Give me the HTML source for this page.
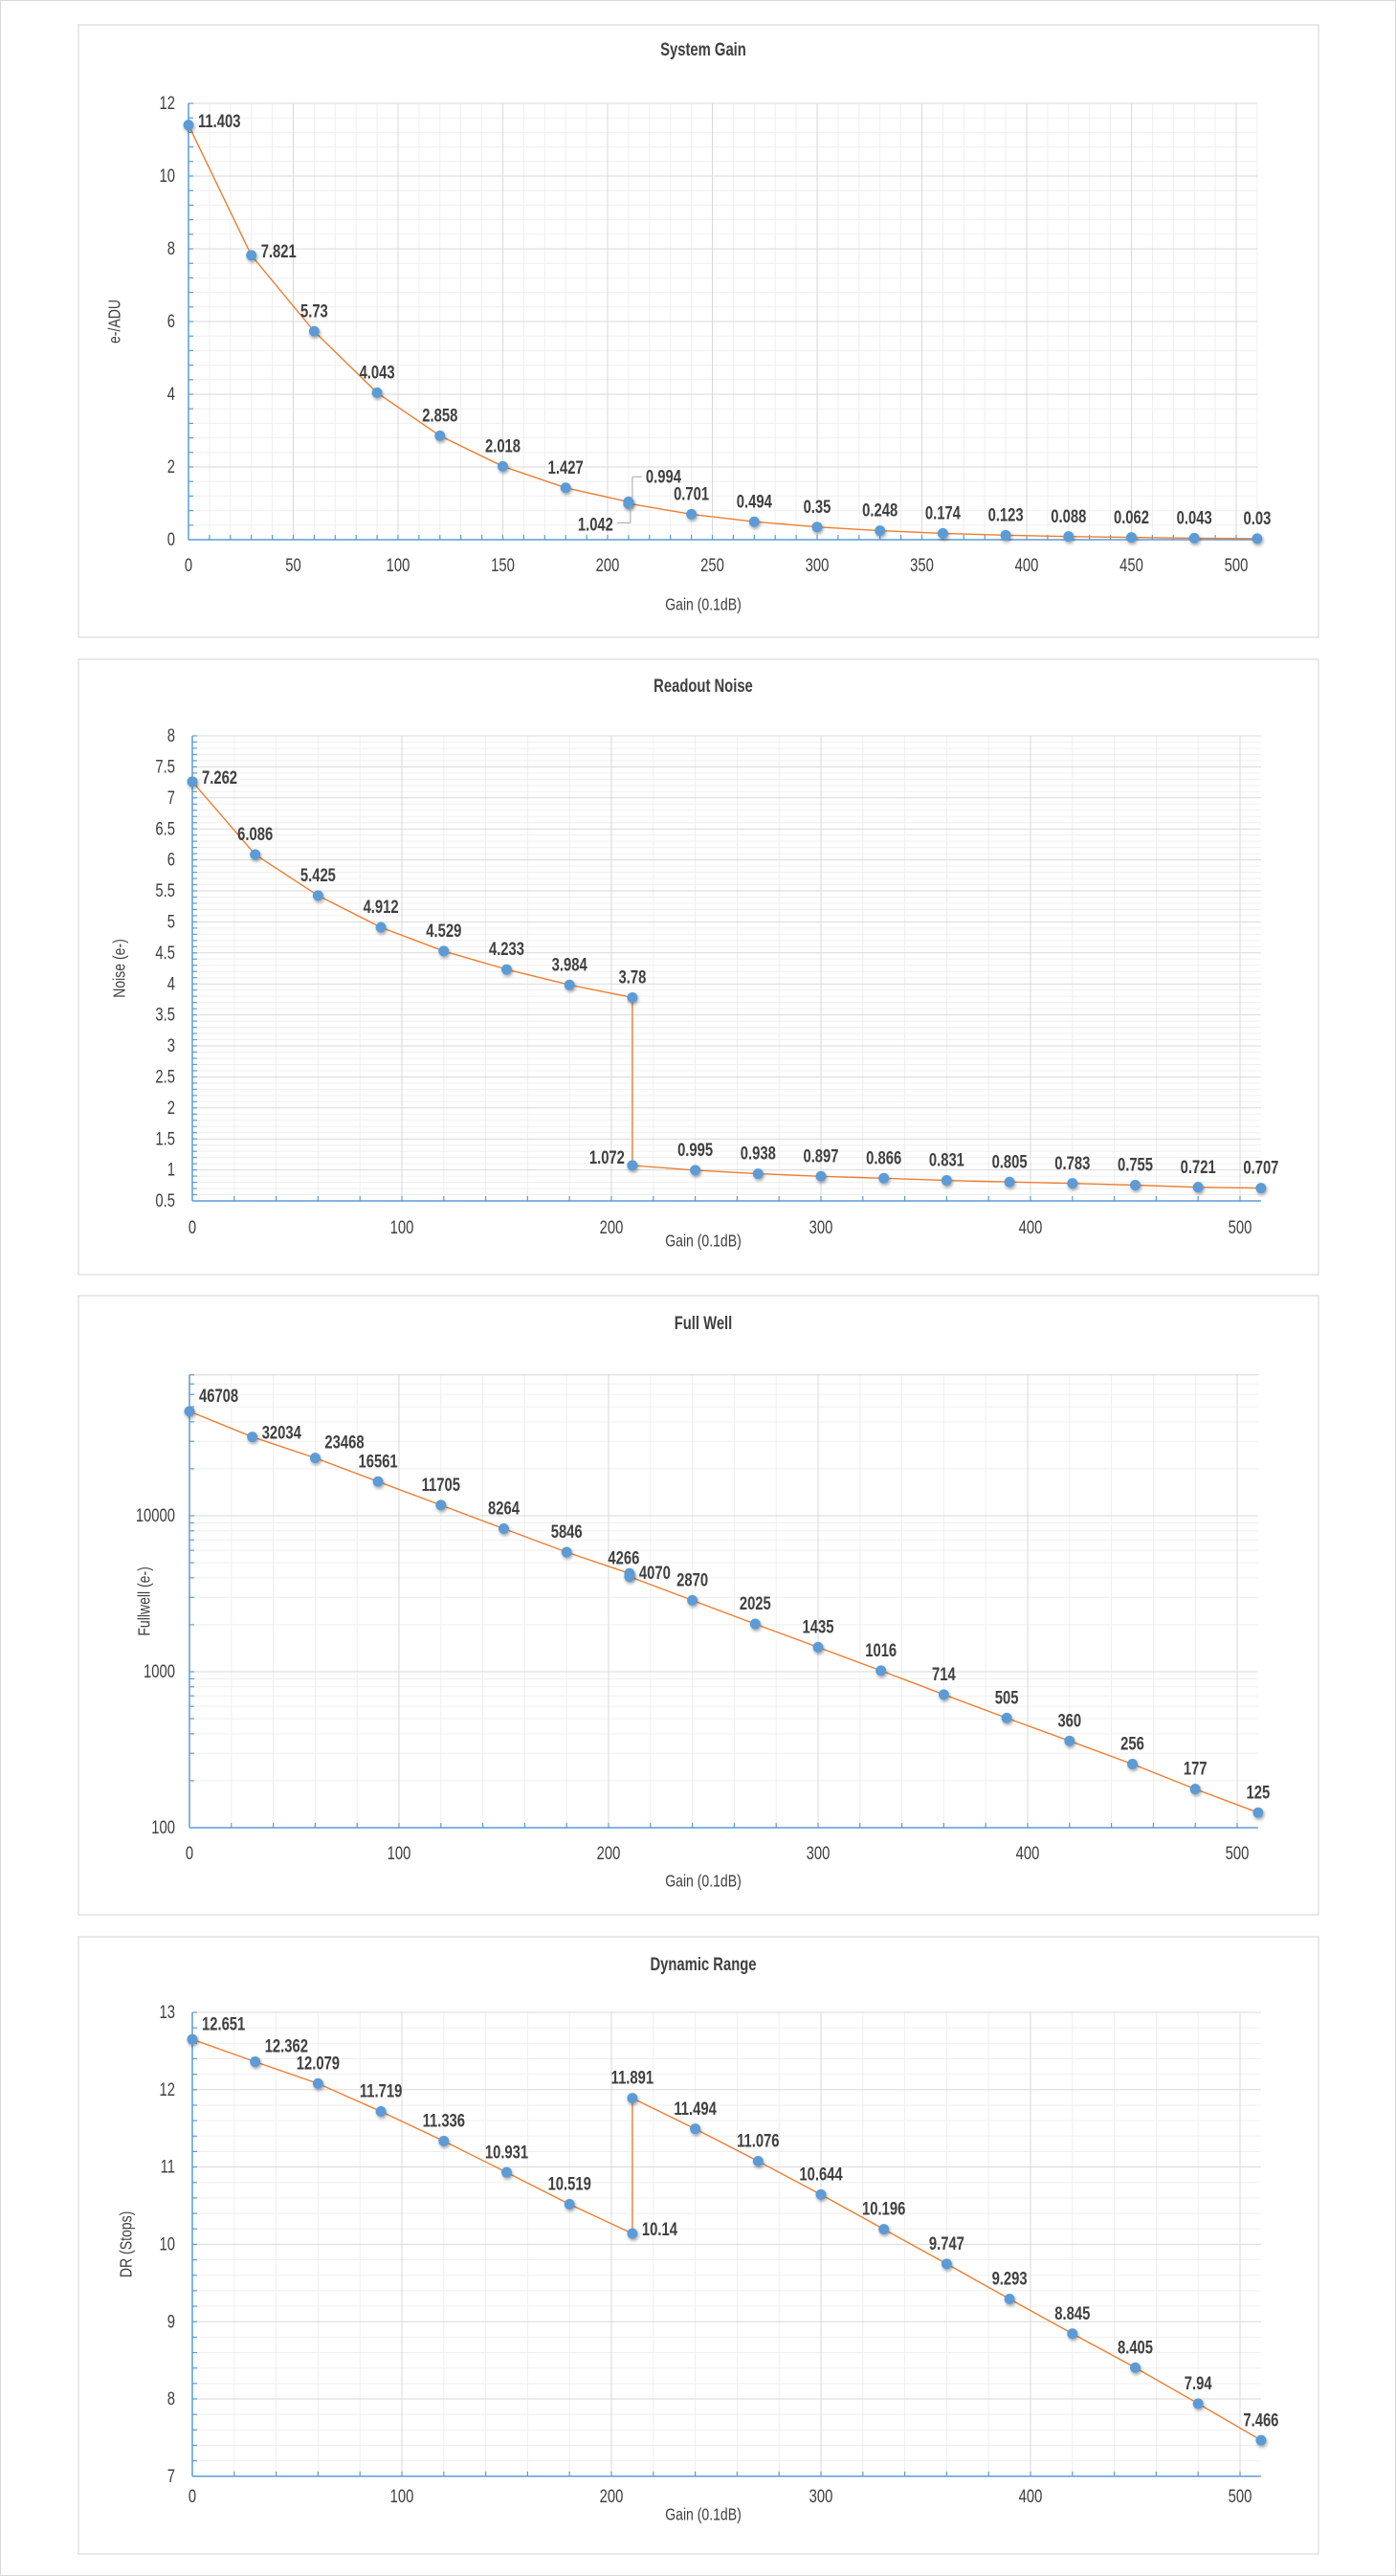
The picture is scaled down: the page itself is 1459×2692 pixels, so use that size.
<!DOCTYPE html>
<html><head><meta charset="utf-8">
<style>
html,body{margin:0;padding:0;background:#fff;}
svg{display:block;}
text{font-family:"Liberation Sans Narrow","Liberation Sans",sans-serif;fill:#404040;}
</style></head>
<body>
<svg id="s" width="1459" height="2692" xmlns="http://www.w3.org/2000/svg">
<defs><filter id="sh" x="-50%" y="-50%" width="200%" height="200%"><feDropShadow dx="1" dy="2" stdDeviation="1.5" flood-color="#000" flood-opacity="0.35"/></filter></defs>
<rect x="0.5" y="0.5" width="1458" height="2691" fill="#fff" stroke="#d9d9d9"/>
</svg>
<script>
const S=document.getElementById('s');
let out='';
function T(x,y,t,o){o=o||{};out+=`<text x="${x}" y="${y}" font-size="${o.fs||18}" text-anchor="${o.a||'middle'}" dominant-baseline="central" ${o.b?'font-weight="bold"':''} transform-origin="${x} ${y}" style="transform:scaleX(${o.sx||0.78})">${t}</text>`;}
function L(x1,y1,x2,y2,c,w){out+=`<line x1="${x1}" y1="${y1}" x2="${x2}" y2="${y2}" stroke="${c}" stroke-width="${w||1}"/>`;}
function chart(c){
  out+=`<rect x="${c.bx}" y="${c.by}" width="${c.bw}" height="${c.bh}" fill="#fff" stroke="#d9d9d9" stroke-width="1.2"/>`;
  const X=v=>c.x0+v*c.xs;
  const x1=X(510);
  const Y=c.Y;
  for(const v of c.ymin){L(c.x0,Y(v),x1,Y(v),'#efefef');}
  for(let v=c.xminStep;v<=510;v+=c.xminStep){L(X(v),c.yTop,X(v),c.yBot,'#efefef');}
  for(const v of c.ymaj){L(c.x0,Y(v),x1,Y(v),'#d9d9d9');}
  for(let v=c.xmajStep;v<=510;v+=c.xmajStep){L(X(v),c.yTop,X(v),c.yBot,'#d9d9d9');}
  L(c.x0,c.yTop,x1,c.yTop,'#d9d9d9');
  L(c.x0,c.yTop,c.x0,c.yBot,'#5b9bd5',1.5);
  L(c.x0,c.yBot,x1,c.yBot,'#5b9bd5',1.5);
  for(const v of c.ymin.concat(c.ymaj)){L(c.x0,Y(v),c.x0+5,Y(v),'#5b9bd5',1.2);}
  for(let v=c.xminStep;v<=510;v+=c.xminStep){L(X(v),c.yBot,X(v),c.yBot-5,'#5b9bd5',1.2);}
  for(const [v,t] of c.ylab){T(183,Y(v),t,{a:'end',fs:19});}
  for(let v=0;v<=500;v+=c.xmajStep){T(X(v),c.xly,v,{fs:19});}
  T((c.bx+c.bx+c.bw)/2+5,c.tty,c.title,{b:1,fs:19});
  T((c.bx+c.bx+c.bw)/2+5,c.xty,'Gain (0.1dB)',{fs:18});
  const cy=(c.yTop+c.yBot)/2;
  out+=`<g transform="rotate(-90 ${c.ytx} ${cy})"><text x="${c.ytx}" y="${cy}" font-size="18" text-anchor="middle" dominant-baseline="central" transform-origin="${c.ytx} ${cy}" style="transform:scaleX(0.78)">${c.ytitle}</text></g>`;
  let p=c.pts.map(q=>X(q[0]).toFixed(1)+','+Y(q[1]).toFixed(1)).join(' ');
  out+=`<polyline points="${p}" fill="none" stroke="#ed7d31" stroke-width="1.4"/>`;
  for(const q of c.pts){out+=`<circle cx="${X(q[0])}" cy="${Y(q[1])}" r="5.5" fill="#5b9bd5" filter="url(#sh)"/>`;}
  for(const q of c.pts){
    const px=X(q[0]),py=Y(q[1]);const o=q[3]||'t';
    let dx=0,dy=-21,a='middle';
    if(o==='r'){dx=10;dy=-4;a='start';}
    if(o==='tr'){dx=10;dy=-16;a='start';}
    if(o==='l'){dx=-8;dy=-8;a='end';}
    if(o==='bl'){dx=-16;dy=24;a='end';L(px+2,py+4,px+2,py+22,'#a6a6a6');L(px+2,py+22,px-12,py+22,'#a6a6a6');}
    if(o==='tl'){dx=-6;dy=-16;a='middle';}
    if(o==='t2'){dx=18;dy=-28;a='start';L(px+4,py-4,px+4,py-28,'#a6a6a6');L(px+4,py-28,px+14,py-28,'#a6a6a6');}
    T(px+dx,py+dy,q[2],{a:a,fs:19,b:1});
  }
}
const rng=(a,b,s)=>{let r=[];for(let v=a;v<=b+1e-9;v+=s)r.push(+v.toFixed(4));return r;};
(function(){
 const yB=564,yT=108,Y=v=>yB-(yB-yT)*v/12;
 const vals=[[0,11.403,'11.403','r'],[30,7.821,'7.821','r'],[60,5.73,'5.73'],[90,4.043,'4.043'],[120,2.858,'2.858'],[150,2.018,'2.018'],[180,1.427,'1.427'],[210,1.042,'1.042','bl'],[210,0.994,'0.994','t2'],[240,0.701,'0.701'],[270,0.494,'0.494'],[300,0.35,'0.35'],[330,0.248,'0.248'],[360,0.174,'0.174'],[390,0.123,'0.123'],[420,0.088,'0.088'],[450,0.062,'0.062'],[480,0.043,'0.043'],[510,0.03,'0.03']];
 chart({bx:82,by:26,bw:1296,bh:640,x0:197,xs:2.19,Y:Y,yTop:yT,yBot:yB,ymin:rng(0.4,12,0.4).filter(v=>Math.abs(v/2-Math.round(v/2))>1e-6),ymaj:[2,4,6,8,10,12],ylab:[0,2,4,6,8,10,12].map(v=>[v,v]),xminStep:10,xmajStep:50,xly:591,xty:632,tty:52,ytx:120,title:'System Gain',ytitle:'e-/ADU',pts:vals});
})();
(function(){
 const yT=769,Y=v=>yT+(8-v)*64.8;
 const vals=[[0,7.262,'7.262','r'],[30,6.086,'6.086'],[60,5.425,'5.425'],[90,4.912,'4.912'],[120,4.529,'4.529'],[150,4.233,'4.233'],[180,3.984,'3.984'],[210,3.78,'3.78'],[210,1.072,'1.072','l'],[240,0.995,'0.995'],[270,0.938,'0.938'],[300,0.897,'0.897'],[330,0.866,'0.866'],[360,0.831,'0.831'],[390,0.805,'0.805'],[420,0.783,'0.783'],[450,0.755,'0.755'],[480,0.721,'0.721'],[510,0.707,'0.707']];
 const maj=rng(1,8,0.5),min=rng(0.6,7.9,0.1).filter(v=>Math.abs(v*2-Math.round(v*2))>1e-6);
 chart({bx:82,by:689,bw:1296,bh:643,x0:201,xs:2.19,Y:Y,yTop:yT,yBot:Y(0.5),ymin:min,ymaj:maj,ylab:rng(0.5,8,0.5).map(v=>[v,v]),xminStep:20,xmajStep:100,xly:1283,xty:1297,tty:717,ytx:125,title:'Readout Noise',ytitle:'Noise (e-)',pts:vals});
})();
(function(){
 const yB=1910,dec=163,Y=v=>yB-dec*(Math.log10(v)-2);
 const vals=[[0,46708,'46708','tr'],[30,32034,'32034','r'],[60,23468,'23468','tr'],[90,16561,'16561'],[120,11705,'11705'],[150,8264,'8264'],[180,5846,'5846'],[210,4266,'4266','tl'],[210,4070,'4070','r'],[240,2870,'2870'],[270,2025,'2025'],[300,1435,'1435'],[330,1016,'1016'],[360,714,'714'],[390,505,'505'],[420,360,'360'],[450,256,'256'],[480,177,'177'],[510,125,'125']];
 let min=[];[100,1000,10000].forEach(d=>{for(let k=2;k<=9;k++){if(d*k<=80000)min.push(d*k);}});
 chart({bx:82,by:1354,bw:1296,bh:647,x0:198,xs:2.19,Y:Y,yTop:Y(80000),yBot:yB,ymin:min,ymaj:[1000,10000],ylab:[[100,100],[1000,1000],[10000,10000]],xminStep:20,xmajStep:100,xly:1937,xty:1966,tty:1383,ytx:151,title:'Full Well',ytitle:'Fullwell (e-)',pts:vals});
})();
(function(){
 const yT=2103,Y=v=>yT+(13-v)*80.8;
 const vals=[[0,12.651,'12.651','tr'],[30,12.362,'12.362','tr'],[60,12.079,'12.079'],[90,11.719,'11.719'],[120,11.336,'11.336'],[150,10.931,'10.931'],[180,10.519,'10.519'],[210,10.14,'10.14','r'],[210,11.891,'11.891'],[240,11.494,'11.494'],[270,11.076,'11.076'],[300,10.644,'10.644'],[330,10.196,'10.196'],[360,9.747,'9.747'],[390,9.293,'9.293'],[420,8.845,'8.845'],[450,8.405,'8.405'],[480,7.94,'7.94'],[510,7.466,'7.466']];
 const min=rng(7.2,12.8,0.2).filter(v=>Math.abs(v-Math.round(v))>1e-6);
 chart({bx:82,by:2024,bw:1296,bh:645,x0:201,xs:2.19,Y:Y,yTop:yT,yBot:Y(7),ymin:min,ymaj:[8,9,10,11,12,13],ylab:[7,8,9,10,11,12,13].map(v=>[v,v]),xminStep:20,xmajStep:100,xly:2609,xty:2628,tty:2053,ytx:132,title:'Dynamic Range',ytitle:'DR (Stops)',pts:vals});
})();
S.insertAdjacentHTML('beforeend',out);
</script>
</body></html>
